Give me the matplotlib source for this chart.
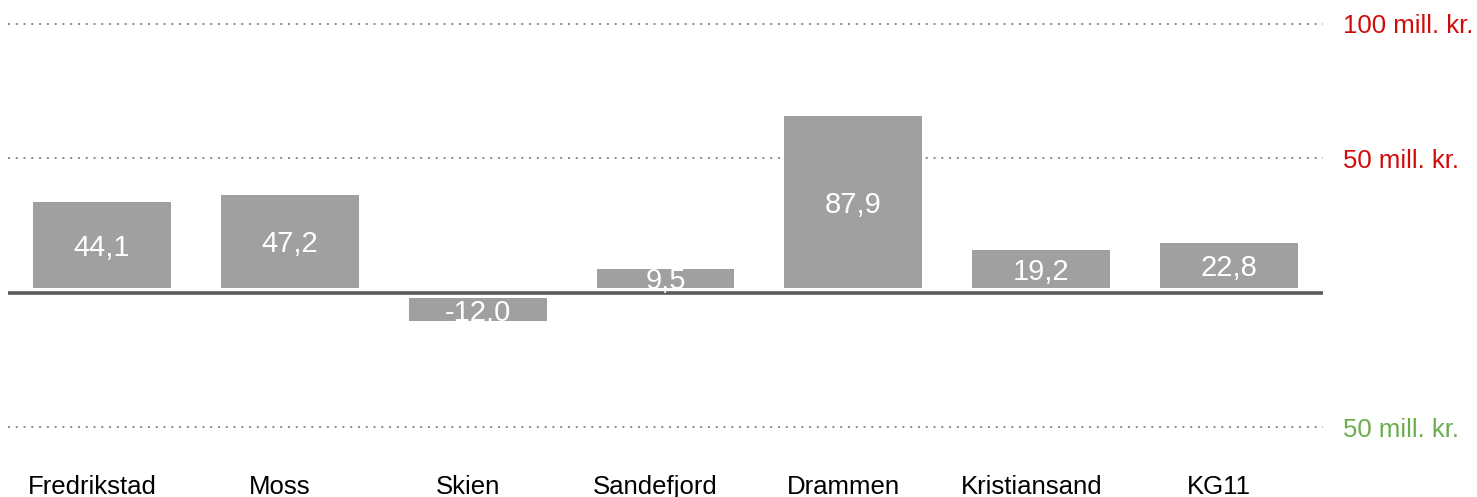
import numpy as np
import matplotlib
matplotlib.use("Agg")
import matplotlib.pyplot as plt
import matplotlib.transforms as mtransforms

# ---- data ----
categories = ["Fredrikstad", "Moss", "Skien", "Sandefjord", "Drammen", "Kristiansand", "KG11"]
values = [44.1, 47.2, -12.0, 9.5, 87.9, 19.2, 22.8]
value_labels = ["44,1", "47,2", "-12,0", "9,5", "87,9", "19,2", "22,8"]
grid_values = [100, 50, -50]
grid_labels = ["100 mill. kr.", "50 mill. kr.", "50 mill. kr."]
grid_label_colors = ["#d10a0a", "#d10a0a", "#6aad4e"]

plt.rcParams["font.family"] = ["Liberation Sans", "DejaVu Sans"]

W, H, DPI = 1477, 497, 100
fig = plt.figure(figsize=(W / DPI, H / DPI), dpi=DPI)
fig.patch.set_facecolor("white")

left_px, right_px = 8, 1323
zero_px_from_top = 292.7
bar_px_per_unit = 1.95
grid_px_per_unit = 2.69
zero_from_bottom = H - zero_px_from_top

# grid axis (drawn below)
ax = fig.add_axes([left_px / W, 0, (right_px - left_px) / W, 1])
ax2 = ax.twinx()  # bar axis (drawn on top)

ax.set_ylim(-zero_from_bottom / grid_px_per_unit, zero_px_from_top / grid_px_per_unit)
ax.set_xlim(-0.5, 6.5)
for s in ax.spines.values():
    s.set_visible(False)
ax.yaxis.tick_right()
ax.yaxis.set_label_position("right")
ax.set_yticks(grid_values)
ax.set_yticklabels(grid_labels, fontsize=18.5)
for lbl, c in zip(ax.get_yticklabels(), grid_label_colors):
    lbl.set_color(c)
ax.tick_params(axis="y", length=0, pad=14.4, left=False, labelleft=False,
               right=False, labelright=True)
ax.set_xticks([])
ax.grid(axis="y", linestyle=(0, (1, 3)), color="#8a8a8a", linewidth=1.4)

ax2.set_ylim(-zero_from_bottom / bar_px_per_unit, zero_px_from_top / bar_px_per_unit)
ax2.set_xlim(-0.5, 6.5)
for s in ax2.spines.values():
    s.set_visible(False)
ax2.set_yticks([])
ax2.set_xticks([])
ax2.tick_params(left=False, right=False, labelleft=False, labelright=False)

x = np.arange(len(categories))
v = np.array(values)
gap = 5.2 / bar_px_per_unit
bottoms = np.sign(v) * gap
ax2.bar(x, v, width=0.734, bottom=bottoms, color="#a0a0a0", zorder=2)
ax2.axhline(0, color="#5a5a5a", linewidth=2.6, zorder=3)

for xi, vi, bi, lab in zip(x, v, bottoms, value_labels):
    ax2.text(xi, bi + vi / 2, lab, ha="center", va="center_baseline",
             color="white", fontsize=21, zorder=4)

trans = mtransforms.blended_transform_factory(ax2.transData, fig.transFigure)
offset = mtransforms.ScaledTranslation(-10 / DPI, 0, fig.dpi_scale_trans)
for xi, cat in zip(x, categories):
    ax2.text(xi, (H - 494) / H, cat, ha="center", va="baseline",
             fontsize=18.5, color="black", transform=trans + offset, clip_on=False)

fig.savefig("out.png", dpi=DPI, facecolor="white")
